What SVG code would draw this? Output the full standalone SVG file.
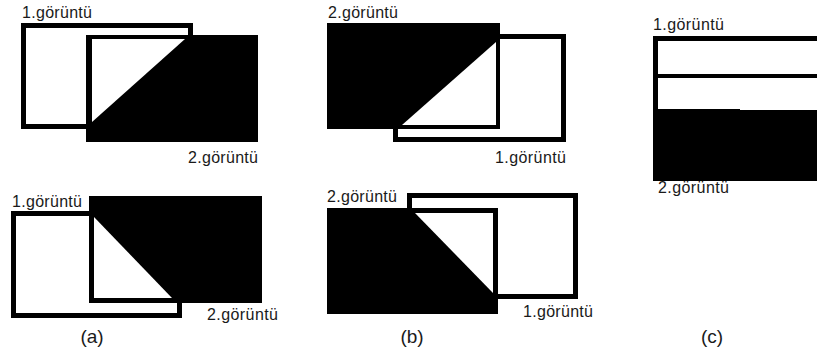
<svg xmlns="http://www.w3.org/2000/svg" width="817" height="356" viewBox="0 0 817 356">
<style>
.frame{fill:#fff;stroke:#000;stroke-width:5}
.blk{fill:#000}
.wht{fill:#fff}
.lbl{font-family:"Liberation Sans",Arial,sans-serif;font-size:16px;fill:#1a1a1a}
.cap{font-family:"Liberation Sans",Arial,sans-serif;font-size:19px;fill:#1a1a1a;text-anchor:middle}
</style>
<rect width="817" height="356" fill="#fff"/>
<g id="panel-a-top">
<rect class="frame" x="23.5" y="25.5" width="167" height="101"/>
<rect class="blk" x="86" y="35" width="172" height="107"/>
<polygon class="wht" points="92,39 185,39 92,122"/>
<text class="lbl" x="22" y="18" textLength="70">1.görüntü</text>
<text class="lbl" x="188" y="163" textLength="70">2.görüntü</text>
</g>
<g id="panel-a-bottom">
<rect class="frame" x="13.5" y="213.5" width="166" height="102"/>
<rect class="blk" x="89" y="196" width="173" height="107"/>
<polygon class="wht" points="94,217 94,298 172,298"/>
<text class="lbl" x="12" y="207" textLength="70">1.görüntü</text>
<text class="lbl" x="207" y="320" textLength="71">2.görüntü</text>
<text class="cap" x="92" y="343">(a)</text>
</g>
<g id="panel-b-top">
<rect class="frame" x="395.5" y="36.5" width="168" height="103"/>
<rect class="blk" x="327" y="23" width="173" height="106"/>
<polygon class="wht" points="402,125 496,42 496,125"/>
<text class="lbl" x="328" y="18" textLength="70">2.görüntü</text>
<text class="lbl" x="495" y="163" textLength="71">1.görüntü</text>
</g>
<g id="panel-b-bottom">
<rect class="frame" x="409.5" y="195.5" width="166" height="101"/>
<rect class="blk" x="327" y="208" width="171" height="106"/>
<polygon class="wht" points="415,213 493,213 493,293"/>
<text class="lbl" x="327" y="202" textLength="70">2.görüntü</text>
<text class="lbl" x="523" y="317" textLength="70">1.görüntü</text>
<text class="cap" x="412" y="343">(b)</text>
</g>
<g id="panel-c">
<rect class="blk" x="653" y="36" width="170" height="5"/>
<rect class="blk" x="653" y="36" width="5" height="145"/>
<rect class="blk" x="653" y="74" width="170" height="4"/>
<path class="blk" d="M653,109 H740 V110 H817 V181 H653 Z"/>
<text class="lbl" x="653" y="30" textLength="71">1.görüntü</text>
<text class="lbl" x="658" y="193" textLength="71">2.görüntü</text>
<text class="cap" x="712" y="343">(c)</text>
</g>
</svg>
